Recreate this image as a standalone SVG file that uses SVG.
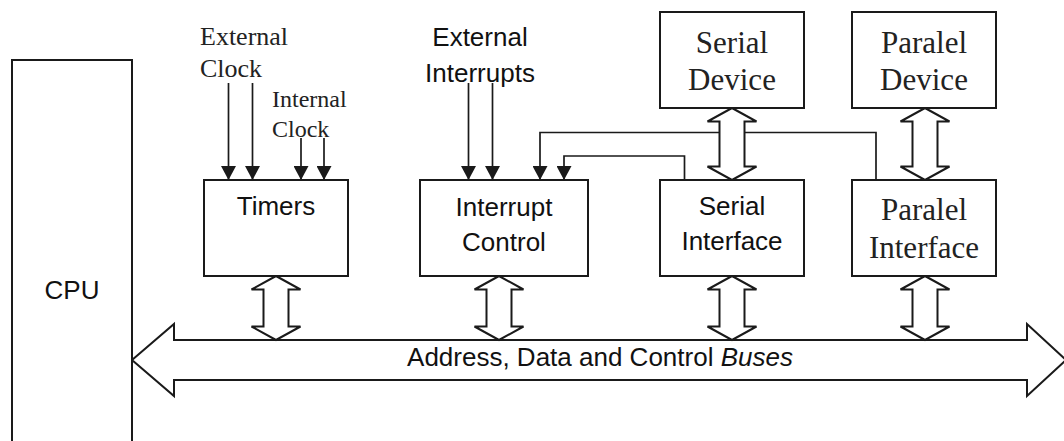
<svg xmlns="http://www.w3.org/2000/svg" width="1064" height="441" viewBox="0 0 1064 441">
<style>
.box{fill:#fff;stroke:#1a1a1a;stroke-width:2}
.ln{fill:none;stroke:#1a1a1a;stroke-width:1.7}
.hol{fill:#fff;stroke:#1a1a1a;stroke-width:2;stroke-linejoin:miter}
.sans{font-family:"Liberation Sans",Arial,sans-serif;font-size:26px;fill:#111}
.serif{font-family:"Liberation Serif","Times New Roman",serif;fill:#222}
.mid{text-anchor:middle}
</style>
<defs>
<marker id="ah" viewBox="0 0 14 15" markerWidth="14" markerHeight="15" refX="14" refY="7.5" orient="auto" markerUnits="userSpaceOnUse">
<path d="M0,0 L14,7.5 L0,15 Z" fill="#1a1a1a"/>
</marker>
</defs>
<rect width="1064" height="441" fill="#fff"/>

<g id="connectors">
<path class="ln" d="M228.5,83 V180" marker-end="url(#ah)"/>
<path class="ln" d="M252.5,83 V180" marker-end="url(#ah)"/>
<path class="ln" d="M301,138 V180" marker-end="url(#ah)"/>
<path class="ln" d="M324,138 V180" marker-end="url(#ah)"/>
<path class="ln" d="M468.5,83 V180" marker-end="url(#ah)"/>
<path class="ln" d="M492.5,83 V180" marker-end="url(#ah)"/>
<path class="ln" d="M876,180 V132.5 H540 V180" marker-end="url(#ah)"/>
<path class="ln" d="M684.5,180 V156 H564 V180" marker-end="url(#ah)"/>
<path id="bus" class="hol" d="M132,360 L174,324 L174,340 L1027,340 L1027,324 L1066,360 L1027,396 L1027,380 L174,380 L174,396 Z"/>
<path class="hol" d="M276,276 L300.5,289.5 L288.5,289.5 L288.5,326.5 L300.5,326.5 L276,340 L251.5,326.5 L263.5,326.5 L263.5,289.5 L251.5,289.5 Z"/>
<path class="hol" d="M499,276 L523.5,289.5 L511.5,289.5 L511.5,326.5 L523.5,326.5 L499,340 L474.5,326.5 L486.5,326.5 L486.5,289.5 L474.5,289.5 Z"/>
<path class="hol" d="M732,276 L756.5,289.5 L744.5,289.5 L744.5,326.5 L756.5,326.5 L732,340 L707.5,326.5 L719.5,326.5 L719.5,289.5 L707.5,289.5 Z"/>
<path class="hol" d="M925,276 L949.5,289.5 L937.5,289.5 L937.5,326.5 L949.5,326.5 L925,340 L900.5,326.5 L912.5,326.5 L912.5,289.5 L900.5,289.5 Z"/>
<path class="hol" d="M732,108 L756.5,121.5 L744.5,121.5 L744.5,166.5 L756.5,166.5 L732,180 L707.5,166.5 L719.5,166.5 L719.5,121.5 L707.5,121.5 Z"/>
<path class="hol" d="M925,108 L949.5,121.5 L937.5,121.5 L937.5,166.5 L949.5,166.5 L925,180 L900.5,166.5 L912.5,166.5 L912.5,121.5 L900.5,121.5 Z"/>
<text class="sans mid" x="600" y="366">Address, Data and Control <tspan font-style="italic">Buses</tspan></text>
</g>

<g id="cpu">
<path class="box" d="M12,445 V60 H132 V445"/>
<text class="sans mid" x="72" y="299" font-size="28">CPU</text>
</g>

<g id="ext-clock">
<text class="serif" x="200" y="45" font-size="26">External</text>
<text class="serif" x="200" y="76.5" font-size="26">Clock</text>
</g>

<g id="int-clock">
<text class="serif" x="272" y="107" font-size="24">Internal</text>
<text class="serif" x="272" y="136.5" font-size="24">Clock</text>
</g>

<g id="ext-interrupts">
<text class="sans mid" x="480" y="45.5">External</text>
<text class="sans mid" x="480" y="81.5">Interrupts</text>
</g>

<g id="timers">
<rect class="box" x="204" y="180" width="144" height="96"/>
<text class="sans mid" x="276" y="215">Timers</text>
</g>

<g id="interrupt-control">
<rect class="box" x="420" y="180" width="168" height="96"/>
<text class="sans mid" x="504" y="216">Interrupt</text>
<text class="sans mid" x="504" y="251">Control</text>
</g>

<g id="serial-interface">
<rect class="box" x="660" y="180" width="144" height="96"/>
<text class="sans mid" x="732" y="215">Serial</text>
<text class="sans mid" x="732" y="250">Interface</text>
</g>

<g id="paralel-interface">
<rect class="box" x="852" y="180" width="144" height="96"/>
<text class="serif mid" x="924" y="220" font-size="31">Paralel</text>
<text class="serif mid" x="924" y="257.5" font-size="31">Interface</text>
</g>

<g id="serial-device">
<rect class="box" x="660" y="12" width="144" height="96"/>
<text class="serif mid" x="732" y="52.5" font-size="31">Serial</text>
<text class="serif mid" x="732" y="89.5" font-size="31">Device</text>
</g>

<g id="paralel-device">
<rect class="box" x="852" y="12" width="144" height="96"/>
<text class="serif mid" x="924" y="52.5" font-size="31">Paralel</text>
<text class="serif mid" x="924" y="89.5" font-size="31">Device</text>
</g>
</svg>
